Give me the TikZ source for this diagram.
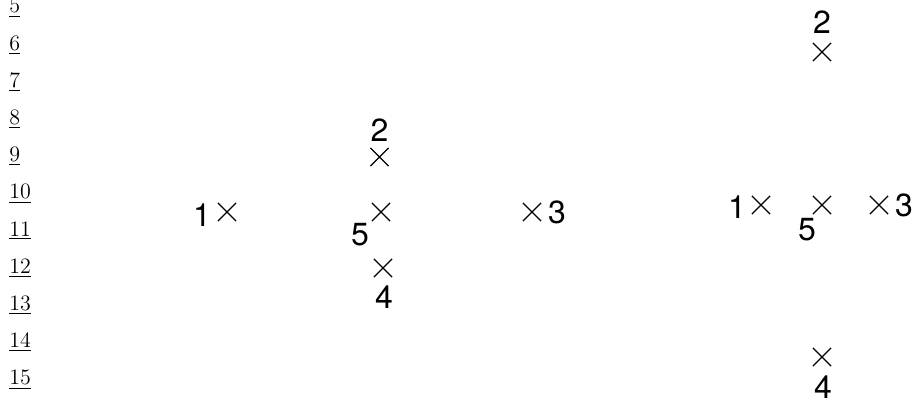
\documentclass[tikz,border=0pt]{standalone}
\usepackage{fontspec}
\newfontfamily\heros{TeX Gyre Heros}
\usetikzlibrary{shapes.misc, positioning}

\begin{document}
\begin{tikzpicture}[x=0.5pt, y=-0.5pt,
  cross/.style={draw, cross out, inner sep=0pt, minimum size=8.5pt, line width=0.6pt},
  lbl/.style={inner sep=0pt, font=\heros\fontsize{16}{18}\selectfont},
  lnum/.style={anchor=base west, inner sep=0pt, font=\fontsize{11}{13}\selectfont},
]
  \useasboundingbox (0,0) rectangle (915,403);
  % line numbers
  \foreach \n [count=\i from 0] in {5,...,15}
    \node[lnum] (n\n) at (9,{12.8+37.2*\i}) {\underline{\n}};
  % first arrangement
  \node[cross] (a1) at (227,212) {};
  \node[cross] (a2) at (379.5,157) {};
  \node[cross] (a3) at (532,212) {};
  \node[cross] (a4) at (383,268) {};
  \node[cross] (a5) at (381,212) {};
  \node[lbl] (la1) at ([shift={(-25,3)}]a1) {1};
  \node[lbl] (la2) at ([shift={(0,-27)}]a2) {2};
  \node[lbl] (la3) at ([shift={(25,0)}]a3) {3};
  \node[lbl] (la4) at ([shift={(1,29)}]a4) {4};
  \node[lbl] (la5) at ([shift={(-21,23)}]a5) {5};
  % second arrangement
  \node[cross] (b1) at (761,205) {};
  \node[cross] (b2) at (822,52) {};
  \node[cross] (b3) at (879,205) {};
  \node[cross] (b4) at (822,357) {};
  \node[cross] (b5) at (822,205) {};
  \node[lbl] (lb1) at ([shift={(-24,2)}]b1) {1};
  \node[lbl] (lb2) at ([shift={(0,-30)}]b2) {2};
  \node[lbl] (lb3) at ([shift={(25,0)}]b3) {3};
  \node[lbl] (lb4) at ([shift={(1,30)}]b4) {4};
  \node[lbl] (lb5) at ([shift={(-15,25)}]b5) {5};
\end{tikzpicture}
\end{document}
